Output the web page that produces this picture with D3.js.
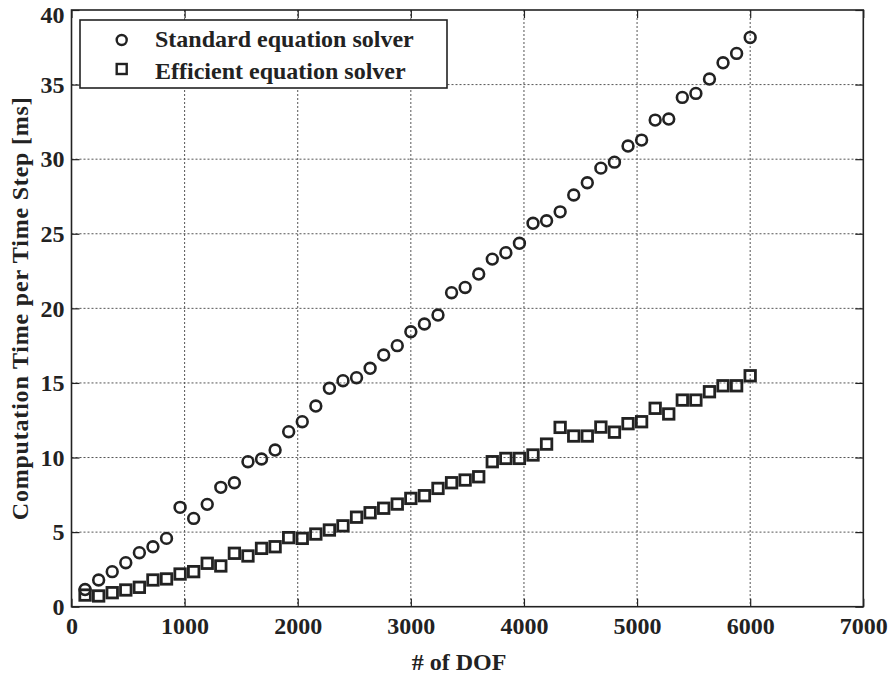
<!DOCTYPE html>
<html>
<head>
<meta charset="utf-8">
<script src="https://cdn.jsdelivr.net/npm/d3@7.9.0/dist/d3.min.js"></script>
<style>
  body { margin: 0; background: #fff; }
  svg text { font-family: "Liberation Serif", "Times New Roman", serif; font-weight: bold; fill: #222; }
</style>
</head>
<body>
<svg id="chart" width="890" height="676"></svg>
<script>
// Degrees of freedom (x values)
const dof = [120, 240, 360, 480, 600, 720, 840, 960, 1080, 1200,
  1320, 1440, 1560, 1680, 1800, 1920, 2040, 2160, 2280, 2400,
  2520, 2640, 2760, 2880, 3000, 3120, 3240, 3360, 3480, 3600,
  3720, 3840, 3960, 4080, 4200, 4320, 4440, 4560, 4680, 4800,
  4920, 5040, 5160, 5280, 5400, 5520, 5640, 5760, 5880, 6000];

// computation time [ms], standard solver
const standardTimes = [1.15, 1.79, 2.35, 2.95, 3.62, 4.02, 4.58, 6.66, 5.92, 6.86,
  8.0, 8.31, 9.72, 9.9, 10.5, 11.73, 12.4, 13.45, 14.64, 15.15,
  15.35, 15.98, 16.87, 17.5, 18.43, 18.95, 19.55, 21.05, 21.4, 22.3,
  23.3, 23.73, 24.36, 25.7, 25.87, 26.47, 27.6, 28.42, 29.4, 29.8,
  30.88, 31.28, 32.62, 32.69, 34.14, 34.41, 35.37, 36.46, 37.09, 38.16];

// computation time [ms], efficient solver
const efficientTimes = [0.78, 0.72, 0.94, 1.12, 1.3, 1.79, 1.86, 2.19, 2.35, 2.91,
  2.73, 3.58, 3.4, 3.91, 4.02, 4.63, 4.58, 4.87, 5.14, 5.42,
  6.0, 6.3, 6.6, 6.88, 7.26, 7.44, 7.93, 8.31, 8.49, 8.71,
  9.72, 9.94, 9.94, 10.17, 10.9, 12.02, 11.44, 11.44, 12.04, 11.7,
  12.27, 12.4, 13.3, 12.92, 13.85, 13.85, 14.41, 14.81, 14.81, 15.48];

const xTicks = [0, 1000, 2000, 3000, 4000, 5000, 6000, 7000];
const yTicks = [0, 5, 10, 15, 20, 25, 30, 35, 40];
const seriesNames = ["Standard equation solver", "Efficient equation solver"];

const ink = "#222";
const plotLeft = 71.5, plotRight = 863.3, plotTop = 10, plotBottom = 606.7;

const svg = d3.select("#chart");

let x = d3.scaleLinear().domain([0, 7000]).range([plotLeft, plotRight]);
let y = d3.scaleLinear().domain([0, 40]).range([plotBottom, plotTop]);

// grid (dotted)
const grid = svg.append("g");
grid.selectAll(".gx").data(xTicks.slice(1, -1)).enter().append("line")
  .attr("x1", d => x(d)).attr("x2", d => x(d))
  .attr("y1", plotTop).attr("y2", plotBottom)
  .attr("stroke", "#555").attr("stroke-width", 1).attr("stroke-dasharray", "2,2");
grid.selectAll(".gy").data(yTicks.slice(1, -1)).enter().append("line")
  .attr("x1", plotLeft).attr("x2", plotRight)
  .attr("y1", d => y(d)).attr("y2", d => y(d))
  .attr("stroke", "#555").attr("stroke-width", 1).attr("stroke-dasharray", "2,2");

// axes with inward ticks on all four sides
const tickLen = 8;
svg.append("g").attr("transform", `translate(0,${plotBottom})`)
  .call(d3.axisBottom(x).tickValues(xTicks).tickFormat(d3.format("d"))
    .tickSizeInner(-tickLen).tickSizeOuter(0).tickPadding(10))
  .call(g => g.select(".domain").remove())
  .call(g => g.selectAll("line").attr("stroke", ink).attr("stroke-width", 1.2))
  .call(g => g.selectAll("text").attr("font-size", 24).attr("fill", ink)
    .attr("font-family", "Liberation Serif").attr("font-weight", "bold"));

svg.append("g").attr("transform", `translate(0,${plotTop})`)
  .call(d3.axisTop(x).tickValues(xTicks).tickSizeInner(-tickLen).tickSizeOuter(0).tickFormat(""))
  .call(g => g.select(".domain").remove())
  .call(g => g.selectAll("line").attr("stroke", ink).attr("stroke-width", 1.2));

svg.append("g").attr("transform", `translate(${plotLeft},0)`)
  .call(d3.axisLeft(y).tickValues(yTicks).tickFormat(d3.format("d"))
    .tickSizeInner(-tickLen).tickSizeOuter(0).tickPadding(7))
  .call(g => g.select(".domain").remove())
  .call(g => g.selectAll("line").attr("stroke", ink).attr("stroke-width", 1.2))
  .call(g => g.selectAll("text").attr("font-size", 24).attr("fill", ink)
    .attr("font-family", "Liberation Serif").attr("font-weight", "bold")
    .attr("dy", d => d === 40 ? "0.5em" : "0.32em")); // keep the top label inside the page

svg.append("g").attr("transform", `translate(${plotRight},0)`)
  .call(d3.axisRight(y).tickValues(yTicks).tickSizeInner(-tickLen).tickSizeOuter(0).tickFormat(""))
  .call(g => g.select(".domain").remove())
  .call(g => g.selectAll("line").attr("stroke", ink).attr("stroke-width", 1.2));

// frame
svg.append("rect")
  .attr("x", plotLeft).attr("y", plotTop)
  .attr("width", plotRight - plotLeft).attr("height", plotBottom - plotTop)
  .attr("fill", "none").attr("stroke", ink).attr("stroke-width", 1.6);

// markers
svg.append("g").selectAll("circle")
  .data(dof.map((d, i) => [d, standardTimes[i]]))
  .enter().append("circle")
  .attr("cx", d => x(d[0])).attr("cy", d => y(d[1]))
  .attr("r", 5.4)
  .attr("fill", "none").attr("stroke", ink).attr("stroke-width", 2.6);

const sq = 10.5;
svg.append("g").selectAll("rect")
  .data(dof.map((d, i) => [d, efficientTimes[i]]))
  .enter().append("rect")
  .attr("x", d => x(d[0]) - sq / 2).attr("y", d => y(d[1]) - sq / 2)
  .attr("width", sq).attr("height", sq)
  .attr("fill", "none").attr("stroke", ink).attr("stroke-width", 2.8);

// axis titles
svg.append("text")
  .attr("x", 459).attr("y", 670)
  .attr("text-anchor", "middle").attr("font-size", 24)
  .text("# of DOF");

svg.append("text")
  .attr("transform", `translate(28,${(plotTop + plotBottom) / 2}) rotate(-90)`)
  .attr("text-anchor", "middle").attr("font-size", 24)
  .attr("letter-spacing", 0.8)
  .text("Computation Time per Time Step [ms]");

// legend
const legend = svg.append("g");
legend.append("rect")
  .attr("x", 80).attr("y", 20).attr("width", 367).attr("height", 68)
  .attr("fill", "#fff").attr("stroke", ink).attr("stroke-width", 1.6);

legend.append("circle")
  .attr("cx", 121.7).attr("cy", 40).attr("r", 5)
  .attr("fill", "none").attr("stroke", ink).attr("stroke-width", 2.4);
legend.append("rect")
  .attr("x", 121.7 - 5).attr("y", 69 - 5).attr("width", 10).attr("height", 10)
  .attr("fill", "none").attr("stroke", ink).attr("stroke-width", 2.4);

legend.selectAll(".lt").data(seriesNames).enter().append("text")
  .attr("x", 155).attr("y", (d, i) => i === 0 ? 46.7 : 79.3)
  .attr("font-size", 24)
  .text(d => d);
</script>
</body>
</html>
